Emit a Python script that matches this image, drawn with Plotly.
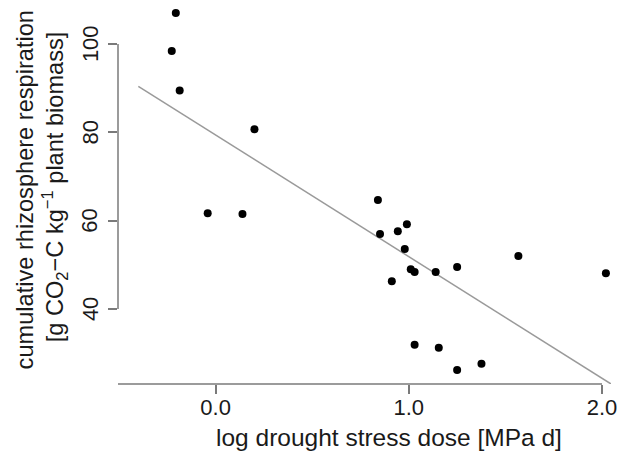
import plotly.graph_objects as go

# log drought stress dose [MPa d]
stress_dose = [-0.206, -0.227, -0.186, 0.201, -0.041, 0.139, 0.840, 0.851,
               0.943, 0.990, 0.979, 0.912, 1.010, 1.030, 1.139, 1.250,
               1.567, 2.020, 1.030, 1.155, 1.250, 1.376]
# cumulative rhizosphere respiration [g CO2-C kg-1 plant biomass]
respiration = [107.0, 98.4, 89.5, 80.7, 61.7, 61.5, 64.7, 57.0,
               57.6, 59.2, 53.6, 46.3, 49.0, 48.4, 48.4, 49.5,
               52.0, 48.1, 31.9, 31.2, 26.2, 27.6]

# linear regression line
fit_intercept = 79.4
fit_slope = -27.55
fit_x = [-0.40, 2.10]

x_ticks = [0, 1, 2]
x_tick_labels = ["0.0", "1.0", "2.0"]
y_ticks = [40, 60, 80, 100]
y_tick_labels = ["40", "60", "80", "100"]

FONT = "Liberation Sans, Arial, sans-serif"
TXT = "#1a1a1a"
AXC = "#7a7a7a"

W, H = 622, 453
ML, MR, MT, MB = 118, 9, 5, 69
x_range = [-0.5052, 2.0464]
y_range = [23.02, 108.83]

fig = go.Figure()

fig.add_trace(go.Scatter(
    x=fit_x,
    y=[fit_intercept + fit_slope * v for v in fit_x],
    mode="lines",
    line=dict(color="#9a9a9a", width=1.5),
    hoverinfo="skip",
    showlegend=False,
))

fig.add_trace(go.Scatter(
    x=stress_dose,
    y=respiration,
    mode="markers",
    marker=dict(color="black", size=8, line=dict(width=0)),
    showlegend=False,
    cliponaxis=False,
))

# axis lines in base-graphics style
fig.add_shape(type="line", xref="paper", yref="paper",
              x0=0, x1=(x_ticks[-1] - x_range[0]) / (x_range[1] - x_range[0]),
              y0=0, y1=0, line=dict(color=AXC, width=1.5))
fig.add_shape(type="line", xref="paper", yref="y",
              x0=0, x1=0, y0=y_ticks[0], y1=y_ticks[-1],
              line=dict(color=AXC, width=1.5))

pw = W - ML - MR
ph = H - MT - MB


def px_x(px):
    return (px - ML) / pw


def px_y(py):
    return (H - MB - py) / ph


# rotated y tick labels, placed on the y scale
for val, lab in zip(y_ticks, y_tick_labels):
    fig.add_annotation(
        text=lab, xref="paper", yref="y", x=px_x(90), y=val,
        xanchor="center", yanchor="middle", showarrow=False, textangle=-90,
        font=dict(family=FONT, size=22, color=TXT),
    )

fig.add_annotation(
    text="log drought stress dose [MPa d]",
    xref="paper", yref="paper", x=px_x(390), y=px_y(437),
    xanchor="center", yanchor="middle", showarrow=False,
    font=dict(family=FONT, size=24.5, color=TXT),
)
fig.add_annotation(
    text="cumulative rhizosphere respiration",
    xref="paper", yref="paper", x=px_x(25), y=px_y(190),
    xanchor="center", yanchor="middle", showarrow=False, textangle=-90,
    font=dict(family=FONT, size=23.6, color=TXT),
)
fig.add_annotation(
    text="[g CO<sub>2</sub>\u2212C kg<sup>\u22121</sup> plant biomass]",
    xref="paper", yref="paper", x=px_x(55), y=px_y(187),
    xanchor="center", yanchor="middle", showarrow=False, textangle=-90,
    font=dict(family=FONT, size=23.6, color=TXT),
)

fig.update_layout(
    width=W, height=H,
    margin=dict(l=ML, r=MR, t=MT, b=MB, pad=0),
    paper_bgcolor="white", plot_bgcolor="white",
    font=dict(family=FONT, size=22, color=TXT),
    xaxis=dict(
        range=x_range, showgrid=False, zeroline=False, showline=False,
        tickmode="array", tickvals=x_ticks, ticktext=x_tick_labels,
        ticks="outside", ticklen=9, tickwidth=1.5, tickcolor=AXC,
        ticklabelstandoff=-5,
    ),
    yaxis=dict(
        range=y_range, showgrid=False, zeroline=False, showline=False,
        tickmode="array", tickvals=y_ticks, showticklabels=False,
        ticks="outside", ticklen=9, tickwidth=1.5, tickcolor=AXC,
    ),
)

fig.write_html("out.html")
